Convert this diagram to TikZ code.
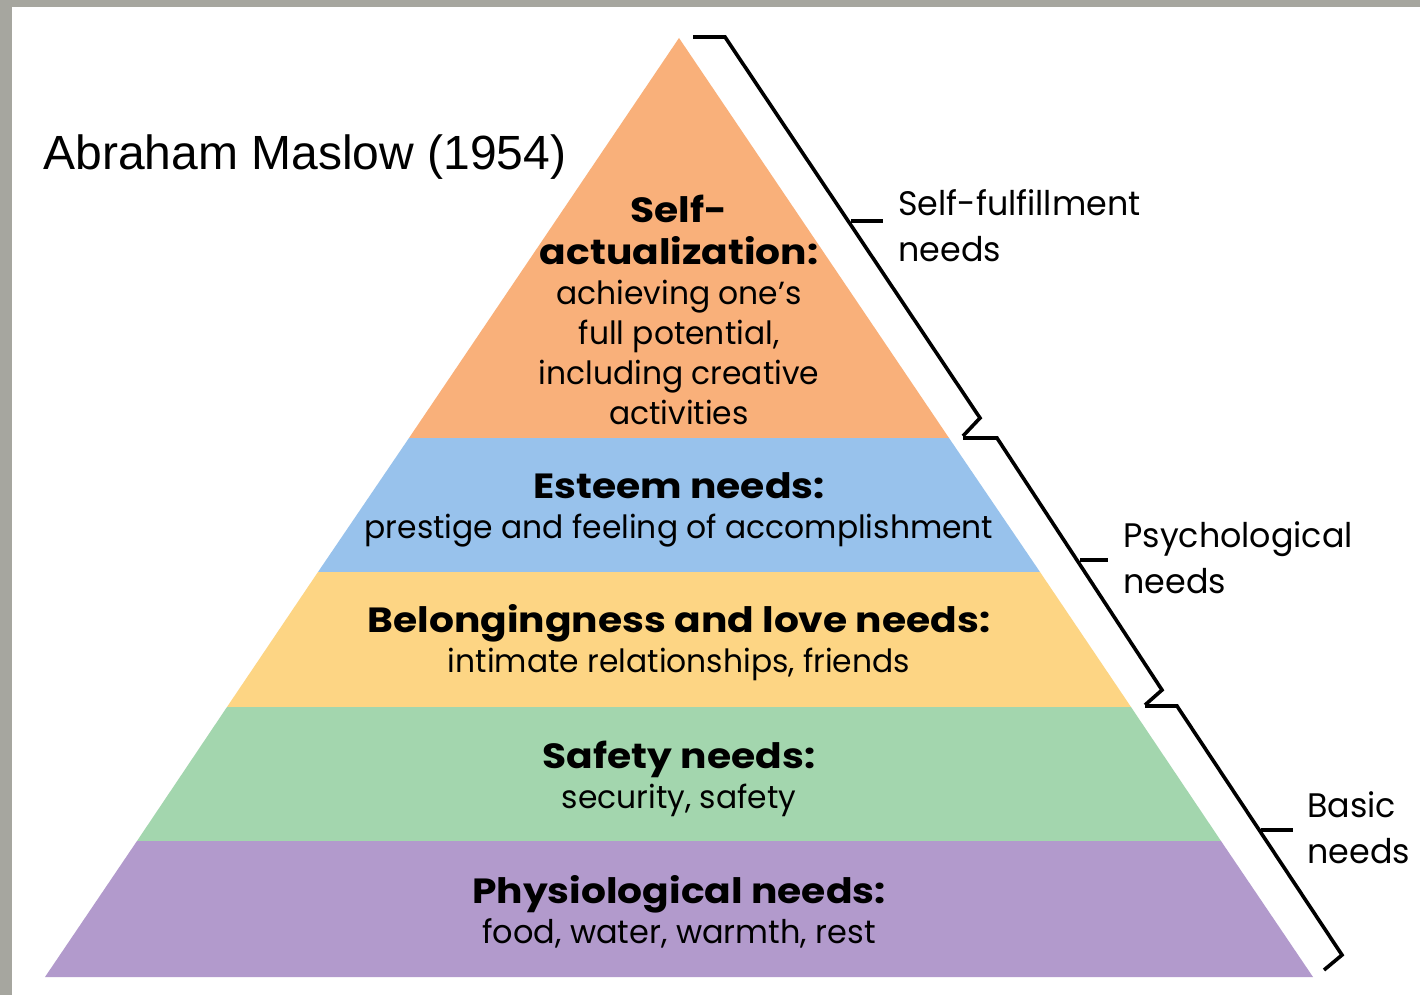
\documentclass[tikz,border=0pt]{standalone}
\usepackage{fontspec}
\setmainfont{Poppins}
\newfontfamily\fut[FakeStretch=0.98]{Poppins}
\newfontfamily\futb[FakeStretch=1.12]{Poppins}
\newfontfamily\arialf{Liberation Sans}
\newcommand{\hd}[1]{{\futb\bfseries\fontsize{17.5}{22}\selectfont #1}}
\definecolor{bgray}{HTML}{A6A69F}
\definecolor{corange}{HTML}{F9B07A}
\definecolor{cblue}{HTML}{98C2EC}
\definecolor{cyellow}{HTML}{FDD584}
\definecolor{cgreen}{HTML}{A3D6AE}
\definecolor{cpurple}{HTML}{B29ACC}
\begin{document}
\begin{tikzpicture}[x=0.5pt,y=-0.5pt,
  lvl/.style={align=center, inner sep=0pt, font=\fut\fontsize{16}{20}\selectfont},
  side/.style={align=left, anchor=west, inner sep=0pt, font=\fut\fontsize{17}{23}\selectfont},
  brk/.style={line width=1.8pt, line join=miter, line cap=butt},
  tick/.style={line width=1.8pt}]
\useasboundingbox (0,0) rectangle (1420,995);
\fill[bgray] (0,0) rectangle (1420,995);
\fill[white] (12,7) rectangle (1420,995);
% pyramid bands
\fill[corange] (679,38) -- (949,438) -- (409,438) -- cycle;
\fill[cblue] (409,438) -- (949,438) -- (1040,572) -- (318,572) -- cycle;
\fill[cyellow] (318,572) -- (1040,572) -- (1131,707) -- (227,707) -- cycle;
\fill[cgreen] (227,707) -- (1131,707) -- (1221,841) -- (137,841) -- cycle;
\fill[cpurple] (137,841) -- (1221,841) -- (1313,977) -- (45,977) -- cycle;
% title
\node[anchor=west, inner sep=0pt, font=\arialf\fontsize{24}{28}\selectfont] (title) at (43,157) {Abraham Maslow (1954)};
% level texts
\node[lvl] (self) at (679,310) {\hd{Self-}\\[1pt]\hd{actualization:}\\achieving one’s\\full potential,\\including creative\\activities};
\node[lvl] (esteem) at (679,510) {\hd{Esteem needs:}\\prestige and feeling of accomplishment};
\node[lvl] (belong) at (679,643) {\hd{Belongingness and love needs:}\\intimate relationships, friends};
\node[lvl] (safety) at (679,779) {\hd{Safety needs:}\\security, safety};
\node[lvl] (phys) at (679,912) {\hd{Physiological needs:}\\{\fontsize{16.3}{20}\selectfont food, water, warmth, rest}};
% side labels
\node[side] (sf) at (898,226) {Self-fulfillment\\needs};
\node[side] (psy) at (1123,558) {Psychological\\needs};
\node[side] (basic) at (1307,828) {Basic\\needs};
% brackets
\coordinate (t1) at (851,221);
\coordinate (t2) at (1080,560);
\coordinate (t3) at (1261,830);
\draw[brk] (693,37) -- (725,37) -- (980,418) -- (963,436);
\draw[brk] (963,438) -- (997,438) -- (1162,690) -- (1145,705);
\draw[brk] (1145,706) -- (1177,706) -- (1342,955) -- (1324,970);
\draw[tick] (t1) -- ([xshift=-7.5pt]sf.west |- t1);
\draw[tick] (t2) -- ([xshift=-7.5pt]psy.west |- t2);
\draw[tick] (t3) -- ([xshift=-7pt]basic.west |- t3);
\end{tikzpicture}
\end{document}
